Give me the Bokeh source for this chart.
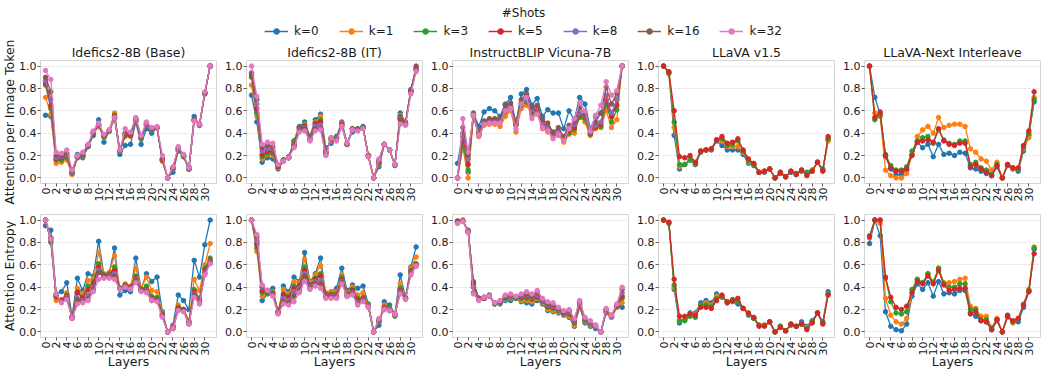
import math
from bokeh.plotting import figure
from bokeh.models import Range1d, FixedTicker, PrintfTickFormatter, Legend, LegendItem, Label
from bokeh.layouts import column, row
from bokeh.embed import file_html
from bokeh.resources import INLINE

FONT = "DejaVu Sans"
LAYERS = list(range(32))
X_TICKS = list(range(0, 31, 2))
Y_TICKS = [0.0, 0.2, 0.4, 0.6, 0.8, 1.0]
SHOTS = ["k=0", "k=1", "k=3", "k=5", "k=8", "k=16", "k=32"]
COLORS = ["#1f77b4", "#ff7f0e", "#2ca02c", "#d62728", "#9467bd", "#8c564b", "#e377c2"]
MODELS = ["Idefics2-8B (Base)", "Idefics2-8B (IT)", "InstructBLIP Vicuna-7B", "LLaVA v1.5", "LLaVA-Next Interleave"]
ROW_LABELS = ["Attention per Image Token", "Attention Entropy"]
LEGEND_TITLE = "#Shots"
X_LABEL = "Layers"

# ---------------- Row 1: Attention per Image Token ----------------
IDEFICS_BASE_ATTN = {
    "k=0": [0.56,0.55,0.16,0.16,0.18,0.04,0.21,0.18,0.28,0.38,0.52,0.32,0.42,0.53,0.21,0.29,0.30,0.50,0.30,0.44,0.40,0.45,0.16,0.00,0.05,0.24,0.19,0.10,0.55,0.47,0.75,1.00],
    "k=1": [0.72,0.57,0.13,0.14,0.16,0.03,0.18,0.19,0.28,0.40,0.46,0.36,0.43,0.58,0.24,0.37,0.37,0.51,0.35,0.47,0.43,0.45,0.15,0.00,0.08,0.25,0.19,0.08,0.52,0.47,0.76,1.00],
    "k=3": [0.83,0.62,0.16,0.16,0.18,0.04,0.18,0.19,0.28,0.40,0.47,0.37,0.42,0.56,0.24,0.38,0.38,0.51,0.35,0.47,0.43,0.45,0.16,0.00,0.08,0.25,0.19,0.08,0.52,0.47,0.76,1.00],
    "k=5": [0.85,0.65,0.17,0.18,0.20,0.05,0.19,0.20,0.29,0.40,0.47,0.38,0.42,0.55,0.24,0.39,0.38,0.52,0.36,0.48,0.44,0.45,0.16,0.00,0.09,0.26,0.20,0.08,0.52,0.48,0.76,1.00],
    "k=8": [0.87,0.70,0.18,0.19,0.21,0.05,0.19,0.20,0.29,0.41,0.47,0.38,0.42,0.54,0.24,0.40,0.39,0.52,0.36,0.48,0.44,0.45,0.17,0.00,0.09,0.26,0.20,0.08,0.51,0.48,0.76,1.00],
    "k=16": [0.90,0.77,0.20,0.20,0.22,0.06,0.19,0.21,0.29,0.41,0.48,0.38,0.42,0.54,0.24,0.40,0.39,0.53,0.37,0.49,0.44,0.45,0.17,0.00,0.09,0.27,0.20,0.08,0.51,0.48,0.76,1.00],
    "k=32": [0.96,0.88,0.23,0.22,0.25,0.07,0.20,0.23,0.30,0.42,0.49,0.39,0.43,0.54,0.25,0.44,0.41,0.54,0.38,0.50,0.45,0.46,0.20,0.00,0.10,0.28,0.21,0.09,0.51,0.48,0.77,1.00],
}
IDEFICS_IT_ATTN = {
    "k=0": [0.74,0.50,0.14,0.18,0.17,0.08,0.15,0.18,0.33,0.46,0.50,0.37,0.52,0.57,0.27,0.31,0.37,0.50,0.31,0.41,0.44,0.46,0.20,0.00,0.10,0.30,0.25,0.11,0.58,0.50,0.79,0.97],
    "k=1": [0.83,0.55,0.17,0.21,0.20,0.09,0.15,0.18,0.31,0.45,0.48,0.37,0.50,0.55,0.25,0.33,0.36,0.49,0.31,0.43,0.43,0.45,0.20,0.00,0.12,0.30,0.25,0.12,0.56,0.49,0.78,0.97],
    "k=3": [0.90,0.58,0.19,0.22,0.22,0.10,0.16,0.18,0.33,0.45,0.47,0.37,0.49,0.52,0.24,0.34,0.36,0.48,0.30,0.44,0.44,0.45,0.20,0.00,0.13,0.30,0.25,0.12,0.55,0.49,0.78,0.97],
    "k=5": [0.92,0.62,0.21,0.24,0.24,0.10,0.16,0.18,0.30,0.44,0.46,0.36,0.48,0.50,0.23,0.35,0.35,0.48,0.30,0.44,0.43,0.45,0.20,0.00,0.14,0.30,0.25,0.12,0.54,0.49,0.77,0.98],
    "k=8": [0.94,0.66,0.24,0.26,0.26,0.11,0.16,0.19,0.29,0.43,0.45,0.35,0.46,0.47,0.22,0.35,0.35,0.47,0.30,0.44,0.43,0.45,0.19,0.00,0.15,0.30,0.25,0.12,0.53,0.48,0.77,0.98],
    "k=16": [0.93,0.70,0.27,0.29,0.28,0.11,0.16,0.19,0.28,0.42,0.44,0.34,0.44,0.44,0.21,0.36,0.34,0.46,0.30,0.44,0.43,0.45,0.19,0.00,0.16,0.30,0.25,0.12,0.52,0.48,0.78,1.00],
    "k=32": [1.00,0.73,0.30,0.32,0.31,0.12,0.15,0.18,0.27,0.41,0.42,0.33,0.42,0.43,0.20,0.36,0.33,0.46,0.31,0.43,0.42,0.44,0.19,0.00,0.17,0.30,0.25,0.12,0.48,0.47,0.75,0.95],
}
INSTRUCTBLIP_ATTN = {
    "k=0": [0.13,0.40,0.05,0.58,0.46,0.59,0.62,0.60,0.55,0.66,0.72,0.48,0.75,0.79,0.65,0.71,0.55,0.61,0.58,0.58,0.44,0.60,0.52,0.72,0.66,0.44,0.55,0.58,0.65,0.55,0.70,1.00],
    "k=1": [0.00,0.27,0.00,0.55,0.37,0.47,0.48,0.48,0.46,0.55,0.60,0.41,0.62,0.65,0.56,0.58,0.44,0.41,0.37,0.38,0.32,0.39,0.40,0.55,0.50,0.38,0.44,0.45,0.60,0.45,0.52,1.00],
    "k=3": [0.00,0.30,0.07,0.56,0.38,0.49,0.50,0.51,0.51,0.59,0.63,0.47,0.65,0.68,0.58,0.60,0.48,0.44,0.38,0.40,0.34,0.40,0.43,0.54,0.53,0.39,0.45,0.46,0.66,0.50,0.61,1.00],
    "k=5": [0.00,0.37,0.12,0.56,0.39,0.49,0.51,0.51,0.52,0.61,0.64,0.48,0.67,0.70,0.60,0.62,0.49,0.45,0.39,0.41,0.35,0.42,0.45,0.57,0.55,0.40,0.46,0.48,0.70,0.55,0.65,1.00],
    "k=8": [0.00,0.40,0.17,0.57,0.40,0.50,0.52,0.52,0.52,0.62,0.65,0.49,0.67,0.70,0.61,0.63,0.50,0.46,0.39,0.42,0.35,0.44,0.48,0.58,0.56,0.41,0.47,0.50,0.74,0.58,0.70,1.00],
    "k=16": [0.00,0.45,0.21,0.57,0.41,0.51,0.53,0.53,0.53,0.65,0.67,0.50,0.70,0.75,0.63,0.65,0.52,0.49,0.41,0.45,0.37,0.47,0.50,0.63,0.57,0.43,0.50,0.58,0.81,0.66,0.76,1.00],
    "k=32": [0.00,0.53,0.23,0.56,0.38,0.48,0.49,0.49,0.49,0.60,0.62,0.44,0.66,0.72,0.53,0.57,0.45,0.42,0.35,0.39,0.33,0.44,0.53,0.67,0.60,0.42,0.56,0.65,0.86,0.74,0.78,1.00],
}
LLAVA15_ATTN = {
    "k=0": [1.00,0.94,0.38,0.08,0.12,0.16,0.12,0.23,0.25,0.25,0.33,0.29,0.25,0.25,0.25,0.21,0.13,0.11,0.05,0.05,0.08,0.00,0.04,0.01,0.05,0.03,0.06,0.05,0.07,0.14,0.08,0.34],
    "k=1": [1.00,0.93,0.45,0.10,0.12,0.17,0.13,0.24,0.25,0.26,0.34,0.33,0.28,0.28,0.28,0.23,0.14,0.12,0.05,0.06,0.08,0.00,0.05,0.01,0.06,0.04,0.07,0.04,0.07,0.14,0.07,0.33],
    "k=3": [1.00,0.94,0.50,0.12,0.12,0.16,0.12,0.24,0.25,0.26,0.34,0.35,0.29,0.30,0.33,0.24,0.15,0.12,0.05,0.06,0.08,0.00,0.05,0.01,0.06,0.04,0.07,0.04,0.06,0.14,0.07,0.35],
    "k=5": [1.00,0.95,0.60,0.19,0.18,0.20,0.14,0.24,0.25,0.26,0.34,0.37,0.31,0.32,0.35,0.25,0.17,0.13,0.05,0.06,0.08,0.00,0.05,0.01,0.06,0.03,0.07,0.02,0.06,0.14,0.06,0.37],
}
LLAVA_NEXT_ATTN = {
    "k=0": [1.00,0.72,0.57,0.19,0.08,0.03,0.03,0.07,0.21,0.32,0.27,0.30,0.19,0.30,0.21,0.22,0.20,0.23,0.22,0.09,0.08,0.06,0.04,0.02,0.10,0.00,0.11,0.08,0.06,0.24,0.38,0.68],
    "k=1": [1.00,0.58,0.55,0.07,0.02,0.00,0.00,0.04,0.21,0.37,0.43,0.46,0.40,0.54,0.45,0.47,0.48,0.48,0.46,0.26,0.23,0.17,0.15,0.07,0.14,0.00,0.12,0.08,0.08,0.26,0.36,0.72],
    "k=3": [1.00,0.52,0.56,0.21,0.11,0.07,0.07,0.10,0.24,0.33,0.36,0.37,0.31,0.43,0.34,0.31,0.30,0.33,0.33,0.12,0.14,0.09,0.07,0.03,0.12,0.00,0.12,0.09,0.08,0.27,0.40,0.70],
    "k=5": [1.00,0.54,0.59,0.20,0.09,0.06,0.06,0.08,0.20,0.32,0.33,0.34,0.32,0.44,0.33,0.30,0.29,0.31,0.31,0.10,0.12,0.08,0.05,0.02,0.11,0.00,0.12,0.09,0.09,0.29,0.42,0.77],
}

# ---------------- Row 2: Attention Entropy ----------------
IDEFICS_BASE_ENT = {
    "k=0": [0.95,0.91,0.34,0.36,0.44,0.14,0.48,0.37,0.52,0.50,0.81,0.51,0.53,0.75,0.33,0.37,0.36,0.66,0.38,0.52,0.45,0.49,0.18,0.00,0.06,0.33,0.28,0.20,0.64,0.49,0.78,1.00],
    "k=1": [1.00,0.84,0.28,0.29,0.35,0.13,0.39,0.34,0.46,0.48,0.71,0.52,0.53,0.68,0.39,0.43,0.41,0.57,0.39,0.49,0.37,0.36,0.17,0.00,0.05,0.24,0.20,0.10,0.47,0.37,0.60,0.79],
    "k=3": [1.00,0.80,0.31,0.28,0.33,0.13,0.36,0.31,0.41,0.45,0.61,0.51,0.52,0.58,0.39,0.42,0.40,0.50,0.38,0.41,0.32,0.31,0.16,0.00,0.04,0.22,0.20,0.09,0.38,0.30,0.57,0.66],
    "k=5": [1.00,0.82,0.32,0.28,0.32,0.13,0.35,0.30,0.38,0.43,0.58,0.50,0.51,0.55,0.39,0.41,0.40,0.48,0.38,0.38,0.30,0.29,0.15,0.00,0.04,0.21,0.20,0.08,0.36,0.28,0.55,0.64],
    "k=8": [1.00,0.83,0.33,0.27,0.31,0.13,0.30,0.28,0.33,0.40,0.55,0.49,0.50,0.52,0.39,0.40,0.39,0.47,0.37,0.37,0.29,0.28,0.14,0.00,0.03,0.20,0.19,0.08,0.34,0.27,0.53,0.63],
    "k=16": [1.00,0.84,0.33,0.27,0.30,0.12,0.28,0.27,0.30,0.38,0.53,0.49,0.49,0.50,0.39,0.40,0.38,0.46,0.37,0.36,0.28,0.28,0.14,0.00,0.03,0.20,0.19,0.07,0.33,0.26,0.52,0.62],
    "k=32": [1.00,0.83,0.34,0.26,0.29,0.12,0.25,0.26,0.28,0.36,0.47,0.48,0.48,0.47,0.38,0.40,0.38,0.44,0.36,0.35,0.28,0.27,0.13,0.00,0.03,0.19,0.18,0.07,0.31,0.25,0.51,0.61],
}
IDEFICS_IT_ENT = {
    "k=0": [1.00,0.80,0.28,0.34,0.39,0.17,0.41,0.36,0.49,0.45,0.71,0.45,0.52,0.66,0.33,0.36,0.39,0.57,0.37,0.42,0.39,0.41,0.25,0.00,0.06,0.27,0.24,0.16,0.51,0.31,0.58,0.76],
    "k=1": [1.00,0.72,0.32,0.35,0.36,0.18,0.38,0.34,0.45,0.44,0.65,0.44,0.51,0.59,0.35,0.36,0.36,0.51,0.35,0.40,0.33,0.35,0.24,0.00,0.09,0.24,0.21,0.16,0.43,0.30,0.57,0.67],
    "k=3": [1.00,0.75,0.35,0.35,0.35,0.18,0.34,0.32,0.41,0.42,0.58,0.42,0.48,0.52,0.34,0.34,0.34,0.49,0.34,0.38,0.30,0.31,0.24,0.00,0.09,0.22,0.21,0.14,0.39,0.30,0.55,0.61],
    "k=5": [1.00,0.78,0.37,0.36,0.34,0.18,0.33,0.31,0.39,0.41,0.55,0.41,0.47,0.50,0.33,0.33,0.33,0.47,0.33,0.37,0.28,0.30,0.23,0.00,0.10,0.22,0.20,0.15,0.37,0.30,0.54,0.60],
    "k=8": [1.00,0.82,0.40,0.37,0.33,0.17,0.30,0.28,0.36,0.39,0.52,0.40,0.45,0.46,0.32,0.32,0.32,0.45,0.32,0.35,0.26,0.29,0.23,0.00,0.10,0.21,0.20,0.15,0.36,0.30,0.53,0.59],
    "k=16": [1.00,0.85,0.41,0.37,0.33,0.17,0.27,0.26,0.32,0.37,0.50,0.39,0.43,0.43,0.31,0.31,0.31,0.44,0.32,0.34,0.25,0.28,0.22,0.00,0.11,0.20,0.19,0.16,0.35,0.30,0.52,0.59],
    "k=32": [1.00,0.87,0.42,0.37,0.32,0.16,0.25,0.24,0.27,0.35,0.45,0.38,0.41,0.39,0.30,0.30,0.30,0.43,0.32,0.33,0.24,0.27,0.22,0.00,0.12,0.20,0.19,0.16,0.34,0.29,0.51,0.59],
}
INSTRUCTBLIP_ENT = {
    "k=0": [0.99,0.99,0.91,0.40,0.29,0.30,0.32,0.25,0.25,0.28,0.28,0.30,0.27,0.26,0.25,0.28,0.25,0.19,0.18,0.17,0.15,0.13,0.05,0.22,0.08,0.05,0.03,0.00,0.17,0.13,0.22,0.22],
    "k=1": [0.99,0.99,0.90,0.42,0.29,0.30,0.32,0.25,0.26,0.29,0.30,0.30,0.28,0.28,0.27,0.30,0.26,0.20,0.19,0.18,0.16,0.14,0.06,0.23,0.09,0.06,0.04,0.00,0.18,0.13,0.22,0.26],
    "k=3": [0.99,0.99,0.90,0.45,0.30,0.30,0.32,0.25,0.26,0.30,0.31,0.30,0.30,0.30,0.29,0.31,0.27,0.22,0.21,0.19,0.17,0.16,0.08,0.24,0.10,0.07,0.04,0.00,0.19,0.14,0.23,0.30],
    "k=5": [0.99,0.99,0.90,0.43,0.30,0.30,0.32,0.26,0.27,0.31,0.32,0.31,0.31,0.32,0.30,0.32,0.28,0.23,0.22,0.20,0.17,0.17,0.09,0.25,0.11,0.08,0.05,0.00,0.19,0.14,0.23,0.32],
    "k=8": [0.98,0.99,0.90,0.40,0.30,0.31,0.32,0.26,0.27,0.32,0.32,0.31,0.32,0.33,0.31,0.33,0.28,0.24,0.23,0.20,0.18,0.18,0.10,0.26,0.11,0.08,0.05,0.00,0.20,0.14,0.24,0.35],
    "k=16": [0.98,1.00,0.89,0.35,0.30,0.31,0.33,0.26,0.27,0.32,0.33,0.31,0.33,0.34,0.32,0.35,0.29,0.25,0.24,0.21,0.18,0.19,0.11,0.27,0.12,0.09,0.06,0.00,0.20,0.15,0.24,0.38],
    "k=32": [0.97,0.99,0.89,0.34,0.28,0.31,0.32,0.26,0.28,0.33,0.34,0.32,0.34,0.36,0.34,0.37,0.30,0.27,0.26,0.22,0.19,0.20,0.12,0.28,0.13,0.10,0.06,0.00,0.21,0.15,0.25,0.40],
}
LLAVA15_ENT = {
    "k=0": [1.00,0.98,0.38,0.08,0.11,0.17,0.17,0.26,0.28,0.26,0.34,0.31,0.27,0.27,0.25,0.21,0.15,0.12,0.06,0.06,0.09,0.00,0.05,0.01,0.07,0.05,0.09,0.05,0.10,0.17,0.09,0.36],
    "k=1": [1.00,0.98,0.40,0.10,0.11,0.16,0.16,0.24,0.26,0.24,0.32,0.32,0.26,0.28,0.27,0.21,0.16,0.12,0.06,0.06,0.09,0.00,0.05,0.01,0.07,0.05,0.07,0.04,0.09,0.17,0.08,0.34],
    "k=3": [1.00,0.97,0.42,0.10,0.10,0.14,0.13,0.24,0.24,0.23,0.30,0.32,0.27,0.29,0.27,0.21,0.16,0.12,0.06,0.06,0.09,0.00,0.05,0.01,0.06,0.05,0.07,0.03,0.09,0.17,0.08,0.34],
    "k=5": [1.00,0.98,0.47,0.14,0.14,0.16,0.15,0.22,0.22,0.21,0.28,0.33,0.26,0.28,0.30,0.21,0.17,0.13,0.05,0.05,0.09,0.00,0.04,0.01,0.07,0.05,0.07,0.02,0.08,0.17,0.07,0.33],
}
LLAVA_NEXT_ENT = {
    "k=0": [0.79,1.00,0.86,0.18,0.05,0.02,0.01,0.07,0.32,0.43,0.38,0.44,0.32,0.45,0.34,0.35,0.34,0.37,0.37,0.17,0.14,0.10,0.09,0.02,0.10,0.00,0.15,0.09,0.09,0.22,0.36,0.74],
    "k=1": [0.84,1.00,0.97,0.30,0.15,0.09,0.07,0.12,0.35,0.47,0.44,0.52,0.45,0.57,0.44,0.44,0.45,0.47,0.48,0.23,0.21,0.14,0.14,0.04,0.12,0.00,0.13,0.08,0.12,0.25,0.38,0.76],
    "k=3": [0.86,1.00,1.00,0.48,0.27,0.17,0.16,0.18,0.38,0.47,0.44,0.52,0.44,0.57,0.43,0.40,0.40,0.43,0.43,0.20,0.20,0.11,0.11,0.03,0.11,0.00,0.14,0.09,0.11,0.24,0.37,0.75],
    "k=5": [0.85,1.00,1.00,0.49,0.31,0.22,0.20,0.23,0.35,0.45,0.43,0.50,0.43,0.55,0.42,0.37,0.38,0.39,0.39,0.16,0.18,0.10,0.09,0.02,0.11,0.00,0.14,0.10,0.12,0.24,0.36,0.70],
}

ROWS = [
    [IDEFICS_BASE_ATTN, IDEFICS_IT_ATTN, INSTRUCTBLIP_ATTN, LLAVA15_ATTN, LLAVA_NEXT_ATTN],
    [IDEFICS_BASE_ENT, IDEFICS_IT_ENT, INSTRUCTBLIP_ENT, LLAVA15_ENT, LLAVA_NEXT_ENT],
]

# ---------------- layout constants ----------------
PAGE_H = 371
STRIP_W = 16
LEG_H = 42
FRAME_W = 176
FRAME_H = 123
TOP = [18, 10]
BOTTOM = [21, 30]
X_LO, X_HI = -0.95, 32.2
Y_LO, Y_HI = -0.05, 1.05
TEXT_COLOR = "#1a1a1a"


def make_panel(series, r, c):
    left = 23 if c == 0 else 27
    right = 3 if c < 4 else 4
    p = figure(frame_width=FRAME_W, frame_height=FRAME_H,
               x_range=Range1d(X_LO, X_HI), y_range=Range1d(Y_LO, Y_HI),
               min_border_left=left, min_border_right=right,
               min_border_top=TOP[r], min_border_bottom=BOTTOM[r],
               output_backend="svg", toolbar_location=None,
               title=MODELS[c] if r == 0 else None)
    if r == 0:
        p.title.text_font = FONT
        p.title.text_font_size = "12.5px"
        p.title.text_font_style = "normal"
        p.title.text_color = TEXT_COLOR
        p.title.align = "center"
        p.title.standoff = 1
        p.title.offset = 0
    p.background_fill_color = "white"
    p.border_fill_color = "white"
    p.outline_line_color = "#d4d4d4"
    p.outline_line_width = 1
    p.xgrid.visible = False
    p.ygrid.grid_line_color = "#d0d0d0"
    p.ygrid.grid_line_dash = "2 2"
    p.ygrid.grid_line_width = 0.8
    p.xaxis.ticker = FixedTicker(ticks=X_TICKS)
    p.xaxis.major_label_orientation = math.pi / 2
    p.yaxis.ticker = FixedTicker(ticks=Y_TICKS)
    p.yaxis.formatter = PrintfTickFormatter(format="%.1f")
    for ax in p.axis:
        ax.axis_line_color = None
        ax.major_tick_line_color = "#333333"
        ax.major_tick_line_width = 0.8
        ax.major_tick_out = 3
        ax.major_tick_in = 0
        ax.minor_tick_line_color = None
        ax.major_label_text_font = FONT
        ax.major_label_text_font_size = "11px"
        ax.major_label_text_color = TEXT_COLOR
        ax.major_label_standoff = 1
        ax.axis_label_text_font = FONT
        ax.axis_label_text_font_size = "12.5px"
        ax.axis_label_text_font_style = "normal"
        ax.axis_label_text_color = TEXT_COLOR
    if r == 1:
        p.xaxis.axis_label = X_LABEL
        p.xaxis.axis_label_standoff = -4
    for i, k in enumerate(SHOTS):
        if k not in series:
            continue
        vals = series[k]
        p.line(LAYERS, vals, line_color=COLORS[i], line_width=1.3)
        p.scatter(LAYERS, vals, marker="circle", size=4.5, fill_color=COLORS[i], line_color=COLORS[i])
    return p


rows = []
for r in range(2):
    rows.append(row(*[make_panel(ROWS[r][c], r, c) for c in range(5)], spacing=0))

# Legend strip: the legend renderers reuse the first panel's series, drawn far outside
# this strip's visible y range so only their legend glyphs appear.
LEG_W = 1014
leg = figure(width=LEG_W, height=LEG_H, x_range=Range1d(0, 1), y_range=Range1d(50, 51),
             output_backend="svg", toolbar_location=None, min_border=0,
             x_axis_location=None, y_axis_location=None)
leg.grid.visible = False
leg.outline_line_color = None
items = []
for i, k in enumerate(SHOTS):
    lr = leg.line(LAYERS, IDEFICS_BASE_ATTN[k], line_color=COLORS[i], line_width=1.5)
    sr = leg.scatter(LAYERS, IDEFICS_BASE_ATTN[k], marker="circle", size=4.5,
                     fill_color=COLORS[i], line_color=COLORS[i])
    items.append(LegendItem(label=k, renderers=[lr, sr]))
legend = Legend(items=items, orientation="horizontal", location="bottom_center",
                margin=4, padding=1, spacing=20, label_standoff=6,
                glyph_width=24, glyph_height=14, label_height=14,
                label_text_font=FONT, label_text_font_size="12px", label_text_color=TEXT_COLOR,
                border_line_color=None, background_fill_alpha=0)
leg.add_layout(legend, "center")
leg.add_layout(Label(x=0.5, y=51 - 12 / LEG_H, text=LEGEND_TITLE, text_align="center", text_baseline="middle",
                     text_font=FONT, text_font_size="12px", text_color=TEXT_COLOR))

# Left strip holding the two row labels (they are taller than one row of panels).
strip = figure(width=STRIP_W, height=PAGE_H, x_range=Range1d(0, STRIP_W), y_range=Range1d(0, PAGE_H),
               output_backend="svg", toolbar_location=None, min_border=0,
               x_axis_location=None, y_axis_location=None)
strip.grid.visible = False
strip.outline_line_color = None
row_centers = [LEG_H + TOP[0] + FRAME_H / 2,
               LEG_H + TOP[0] + FRAME_H + BOTTOM[0] + TOP[1] + FRAME_H / 2]
for r in range(2):
    strip.add_layout(Label(x=9, y=PAGE_H - row_centers[r], text=ROW_LABELS[r], angle=math.pi / 2,
                           text_align="center", text_baseline="middle",
                           text_font=FONT, text_font_size="12.5px", text_color=TEXT_COLOR))

layout = row(strip, column(leg, rows[0], rows[1], spacing=0), spacing=0)

with open("out.html", "w") as f:
    f.write(file_html(layout, INLINE))
